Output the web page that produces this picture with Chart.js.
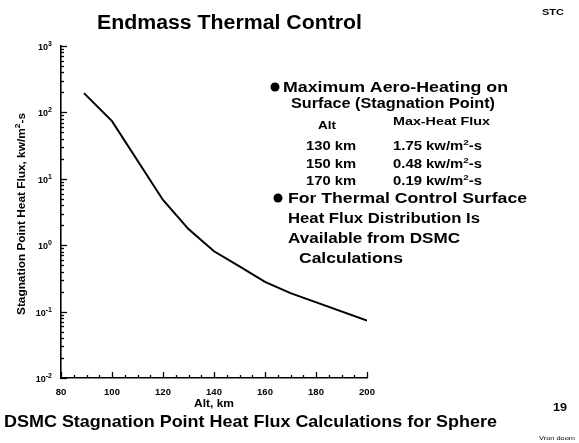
<!DOCTYPE html>
<html>
<head>
<meta charset="utf-8">
<script src="https://cdn.jsdelivr.net/npm/chart.js@4/dist/chart.umd.min.js"></script>
<style>
  html, body { margin: 0; padding: 0; background: #fff; }
  #wrap { width: 579px; height: 443px; position: relative; }
</style>
</head>
<body>
<div id="wrap"><canvas id="c" width="579" height="443"></canvas></div>
<script>
// Stagnation point heat flux vs altitude (DSMC, sphere)
const altitudeKm = [89, 100, 120, 130, 140, 150, 160, 170, 200];
const heatFlux   = [195, 74, 4.8, 1.75, 0.81, 0.48, 0.28, 0.19, 0.073];

// Axis ticks
const xTickValues = [80, 100, 120, 140, 160, 180, 200];
const yDecades    = [-2, -1, 0, 1, 2, 3];

// Max heat flux table
const tableAlt  = ['130 km', '150 km', '170 km'];
const tableFlux = ['1.75', '0.48', '0.19'];

const FONT = '"Liberation Sans", Arial, Helvetica, sans-serif';
const INK = '#000';

// Draws runs of text (optionally raised) starting at x, stretched
// horizontally to a given overall width when one is given.
function runs(ctx, parts, x, y, size, supSize, width, align, weight) {
  weight = weight || 'bold';
  const f = p => weight + ' ' + (p.sup ? supSize : size) + 'px ' + FONT;
  let w = 0;
  for (const p of parts) { ctx.font = f(p); w += ctx.measureText(p.t).width; }
  const k = width ? width / w : 1;
  const total = w * k;
  let x0 = x;
  if (align === 'center') x0 = x - total / 2;
  else if (align === 'right') x0 = x - total;
  ctx.save();
  ctx.translate(x0, y);
  ctx.scale(k, 1);
  ctx.textAlign = 'left';
  ctx.textBaseline = 'alphabetic';
  let cx = 0;
  for (const p of parts) {
    ctx.font = f(p);
    ctx.fillText(p.t, cx, p.sup ? -size * 0.45 : 0);
    cx += ctx.measureText(p.t).width;
  }
  ctx.restore();
}
function txt(ctx, s, x, y, size, width, align, weight) {
  runs(ctx, [{ t: s }], x, y, size, size, width, align, weight);
}

const decor = {
  id: 'decor',
  afterDatasetsDraw(chart) {
    const ctx = chart.ctx;
    const xs = chart.scales.x, ys = chart.scales.y;
    const area = chart.chartArea;
    ctx.save();
    ctx.fillStyle = INK;
    ctx.strokeStyle = INK;

    // inward tick marks on the x axis (every 5 km)
    ctx.lineWidth = 1.3;
    for (let v = 80; v <= 200; v += 5) {
      const px = Math.round(xs.getPixelForValue(v)) + 0.5;
      const len = v % 20 === 0 ? 6 : 3;
      ctx.beginPath();
      ctx.moveTo(px, area.bottom);
      ctx.lineTo(px, area.bottom - len);
      ctx.stroke();
    }
    // inward tick marks on the log y axis
    for (const d of yDecades) {
      for (let m = 1; m <= 9; m++) {
        const v = m * Math.pow(10, d);
        const py = Math.round(ys.getPixelForValue(v)) + 0.5;
        const len = m === 1 ? 6 : 3;
        ctx.beginPath();
        ctx.moveTo(area.left, py);
        ctx.lineTo(area.left + len, py);
        ctx.stroke();
        if (d === 3) break;
      }
    }
    // y tick labels 10^n
    for (const d of yDecades) {
      const py = ys.getPixelForValue(Math.pow(10, d));
      runs(ctx, [{ t: '10' }, { t: String(d), sup: true }], area.left - 9, py + 4, 9, 7, 0, 'right');
    }

    // axis titles
    txt(ctx, 'Alt, km', (area.left + area.right) / 2, 407, 11.5, 40, 'center');
    ctx.save();
    ctx.translate(25, (area.top + area.bottom) / 2 + 2);
    ctx.rotate(-Math.PI / 2);
    runs(ctx, [{ t: 'Stagnation Point Heat Flux, kw/m' }, { t: '2', sup: true }, { t: '-s' }], 0, 0, 11, 8, 202, 'center');
    ctx.restore();

    // headings
    txt(ctx, 'Endmass Thermal Control', 229.5, 29, 20, 265, 'center');
    txt(ctx, 'STC', 553, 15, 9, 22, 'center');
    txt(ctx, 'DSMC Stagnation Point Heat Flux Calculations for Sphere', 4, 427, 16.5, 493, 'left');
    txt(ctx, '19', 560, 411, 11.5, 14, 'center');
    txt(ctx, 'Vron doom', 557, 440, 6, 36, 'center', 'normal');

    // notes
    ctx.beginPath(); ctx.arc(275, 87, 4.5, 0, Math.PI * 2); ctx.fill();
    txt(ctx, 'Maximum Aero-Heating on', 283, 92, 14, 225);
    txt(ctx, 'Surface (Stagnation Point)', 291, 108, 14, 204);
    txt(ctx, 'Alt', 318, 129, 11.5, 18);
    txt(ctx, 'Max-Heat Flux', 393, 125, 11.5, 97);
    const rowY = [150, 168, 185];
    tableAlt.forEach((a, i) => {
      txt(ctx, a, 306, rowY[i], 12, 50);
      runs(ctx, [{ t: tableFlux[i] + ' kw/m' }, { t: '2', sup: true }, { t: '-s' }], 393, rowY[i], 12, 8, 89);
    });
    ctx.beginPath(); ctx.arc(278, 198, 4.5, 0, Math.PI * 2); ctx.fill();
    txt(ctx, 'For Thermal Control Surface', 288, 203, 14, 239);
    txt(ctx, 'Heat Flux Distribution Is', 288, 223, 14, 192);
    txt(ctx, 'Available from DSMC', 288, 243, 14, 172);
    txt(ctx, 'Calculations', 299, 263, 14, 104);

    ctx.restore();
  }
};

new Chart(document.getElementById('c'), {
  type: 'line',
  data: {
    labels: altitudeKm,
    datasets: [{
      data: altitudeKm.map((a, i) => ({ x: a, y: heatFlux[i] })),
      borderColor: INK,
      borderWidth: 2,
      pointRadius: 0,
      tension: 0,
      fill: false
    }]
  },
  options: {
    responsive: false,
    animation: false,
    devicePixelRatio: 1,
    layout: { padding: { left: 0, top: 46, right: 212, bottom: 0 } },
    plugins: { legend: { display: false }, tooltip: { enabled: false } },
    scales: {
      x: {
        type: 'linear',
        min: 80, max: 200,
        afterFit(s) { s.height = 65; },
        afterBuildTicks(s) { s.ticks = xTickValues.map(v => ({ value: v })); },
        ticks: { color: INK, padding: 9, font: { family: FONT, size: 9.5, weight: 'bold' }, maxRotation: 0, autoSkip: false },
        grid: { drawOnChartArea: false, drawTicks: false },
        border: { display: true, color: INK, width: 1.6 }
      },
      y: {
        type: 'logarithmic',
        min: 0.01, max: 1000,
        afterFit(s) { s.width = 61; },
        afterBuildTicks(s) { s.ticks = yDecades.map(d => ({ value: Math.pow(10, d) })); },
        ticks: { display: false },
        grid: { drawOnChartArea: false, drawTicks: false },
        border: { display: true, color: INK, width: 1.6 }
      }
    }
  },
  plugins: [decor]
});
</script>
</body>
</html>
